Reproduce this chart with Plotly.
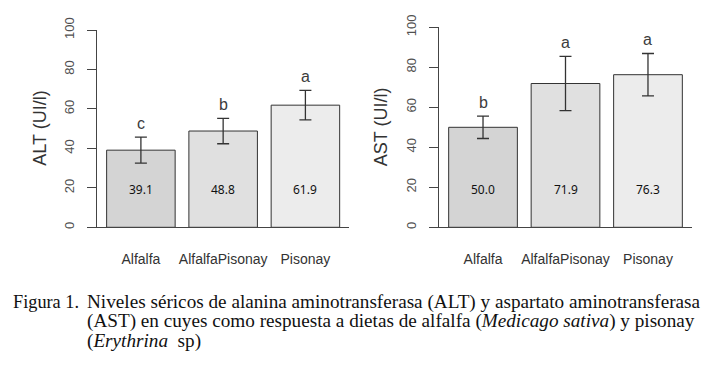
import plotly.graph_objects as go

categories = ["Alfalfa", "AlfalfaPisonay", "Pisonay"]
alt_mean = [39.1, 48.8, 61.9]
alt_sd = [6.6, 6.45, 7.45]
alt_letters = ["c", "b", "a"]
ast_mean = [50.0, 71.9, 76.3]
ast_sd = [5.6, 13.6, 10.6]
ast_letters = ["b", "a", "a"]
bar_colors = ["#d4d4d4", "#e0e0e0", "#ececec"]
y_ticks = [0, 20, 40, 60, 80, 100]

W, H = 728, 372
fig = go.Figure()

panels = [
    dict(means=alt_mean, sds=alt_sd, letters=alt_letters, title="ALT (UI/l)",
         xpx=(97.3, 349.0), ypx=(227.3, 30.0), title_x=40, xa="x", ya="y"),
    dict(means=ast_mean, sds=ast_sd, letters=ast_letters, title="AST (UI/l)",
         xpx=(439.3, 691.7), ypx=(227.3, 27.3), title_x=381, xa="x2", ya="y2"),
]

annotations = []
for i, p in enumerate(panels):
    fig.add_trace(go.Bar(
        x=categories, y=p["means"], xaxis=p["xa"], yaxis=p["ya"],
        marker=dict(color=bar_colors, line=dict(color="#333333", width=1)),
        error_y=dict(type="data", array=p["sds"], visible=True,
                     color="#333333", thickness=1.3, width=6),
        showlegend=False, hoverinfo="skip",
    ))
    sfx = "" if i == 0 else "2"
    xdom = [p["xpx"][0] / W, p["xpx"][1] / W]
    ydom = [1 - p["ypx"][0] / H, 1 - p["ypx"][1] / H]
    fig.update_layout(**{
        "xaxis" + sfx: dict(
            domain=xdom, range=[-0.53, 2.53], type="category",
            showline=True, linecolor="#444444", linewidth=1,
            ticks="", showgrid=False, zeroline=False, automargin=False,
            tickfont=dict(family="Liberation Sans, Arial", size=14, color="#333333"),
            ticklabelstandoff=19, anchor="y" + sfx, fixedrange=True,
        ),
        "yaxis" + sfx: dict(
            domain=ydom, range=[0, 100], tickvals=y_ticks,
            showline=True, linecolor="#444444", linewidth=1,
            ticks="outside", ticklen=9, tickcolor="#444444", tickwidth=1,
            tickangle=-90, showgrid=False, zeroline=False, automargin=False,
            tickfont=dict(family="Liberation Sans, Arial", size=13, color="#505050"),
            ticklabelstandoff=8, anchor="x" + sfx, fixedrange=True,
        ),
    })
    # axis title
    annotations.append(dict(
        x=p["title_x"] / W, y=1 - (p["ypx"][0] + p["ypx"][1]) / 2 / H,
        xref="paper", yref="paper", text=p["title"], textangle=-90,
        showarrow=False, xanchor="center", yanchor="middle",
        font=dict(family="Liberation Sans, Arial", size=18, color="#333333"),
    ))
    for c, m, s, l in zip(categories, p["means"], p["sds"], p["letters"]):
        annotations.append(dict(
            x=c, y=m + s + 7, xref=p["xa"], yref=p["ya"], text=l,
            showarrow=False, xanchor="center", yanchor="middle",
            font=dict(family="Liberation Sans, Arial", size=16, color="#3c3c3c"),
        ))
        annotations.append(dict(
            x=c, y=19, xref=p["xa"], yref=p["ya"], text=f"{m:.1f}",
            showarrow=False, xanchor="center", yanchor="middle",
            font=dict(family="Noto Sans, Open Sans", size=12, color="#111111"),
        ))

caption_font = dict(family="Liberation Serif, Times New Roman", size=19.2, color="#111111")
label_font = dict(family="Liberation Serif, Times New Roman", size=18.3, color="#111111")
caption_lines = [
    "Niveles séricos de alanina aminotransferasa (ALT) y aspartato aminotransferasa",
    "(AST) en cuyes como respuesta a dietas de alfalfa (<i>Medicago sativa</i>) y pisonay",
    "(<i>Erythrina</i>\u00a0 sp)",
]
annotations.append(dict(
    x=11 / W, y=1 - 301.5 / H, xref="paper", yref="paper", text="Figura 1.",
    showarrow=False, xanchor="left", yanchor="middle", font=label_font,
))
for k, line in enumerate(caption_lines):
    annotations.append(dict(
        x=85 / W, y=1 - (301.5 + 19.5 * k) / H, xref="paper", yref="paper", text=line,
        showarrow=False, xanchor="left", yanchor="middle", font=caption_font,
    ))

fig.update_layout(
    template="none",
    width=W, height=H, margin=dict(l=0, r=0, t=0, b=0, autoexpand=False),
    paper_bgcolor="white", plot_bgcolor="white",
    bargap=0.167, annotations=annotations,
)

fig.write_html(
    "out.html",
    config={"displayModeBar": False, "staticPlot": True},
    post_script="document.body.style.margin='0';document.body.style.overflow='hidden';",
)
